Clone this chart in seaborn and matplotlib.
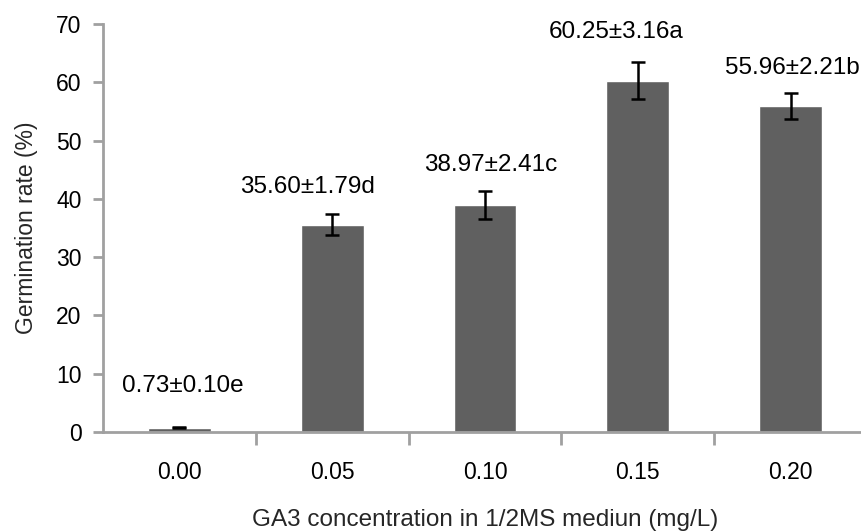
import numpy as np
import pandas as pd
import seaborn as sns
import matplotlib.pyplot as plt

# data
concentrations = ["0.00", "0.05", "0.10", "0.15", "0.20"]
germination = [0.73, 35.60, 38.97, 60.25, 55.96]
std_err = [0.10, 1.79, 2.41, 3.16, 2.21]
letters = ["e", "d", "c", "a", "b"]

df = pd.DataFrame({"conc": concentrations, "rate": germination})

sns.set_style("white")
plt.rcParams["font.family"] = ["Liberation Sans", "DejaVu Sans"]

fig = plt.figure(figsize=(8.61, 5.31), dpi=100)
ax = fig.add_axes([103 / 861, 1 - 432 / 531, 764 / 861, 408 / 531])

sns.barplot(data=df, x="conc", y="rate", color="#606060", width=0.41,
            saturation=1, errorbar=None, ax=ax)
ax.errorbar(range(len(germination)), germination, yerr=std_err, fmt="none",
            ecolor="black", elinewidth=1.8, capsize=4.8, capthick=1.8)

# value labels above the bars (offsets as placed in the original)
label_dx = [0.02, -0.16, 0.04, -0.14, 0.01]
label_dy = [7.0, 4.6, 4.4, 5.2, 4.3]
for i, (v, e, l) in enumerate(zip(germination, std_err, letters)):
    ax.text(i + label_dx[i], v + e + label_dy[i], f"{v:.2f}±{e:.2f}{l}",
            ha="center", va="center", fontsize=17.5, color="black")

ax.set_xlim(-0.5, 4.5)
ax.set_ylim(0, 70)
ax.set_yticks(np.arange(0, 71, 10))
ax.set_xticks(range(len(concentrations)))
ax.set_xticks(np.arange(0.5, 4, 1), minor=True)

for s in ["top", "right"]:
    ax.spines[s].set_visible(False)
for s in ["left", "bottom"]:
    ax.spines[s].set_color("#a0a0a0")
    ax.spines[s].set_linewidth(2)

ax.tick_params(axis="y", which="major", left=True, length=7.5, width=2,
               color="#a0a0a0", labelsize=16.5, pad=8, labelcolor="black")
ax.tick_params(axis="x", which="major", bottom=False, labelsize=16.5,
               pad=17.5, labelcolor="black")
ax.tick_params(axis="x", which="minor", bottom=True, length=9, width=2,
               color="#a0a0a0")

ax.set_xlabel("GA3 concentration in 1/2MS mediun (mg/L)", fontsize=17.5,
              labelpad=18)
ax.set_ylabel("Germination rate (%)", fontsize=16.5, labelpad=13)

fig.savefig("out.png", dpi=100)
